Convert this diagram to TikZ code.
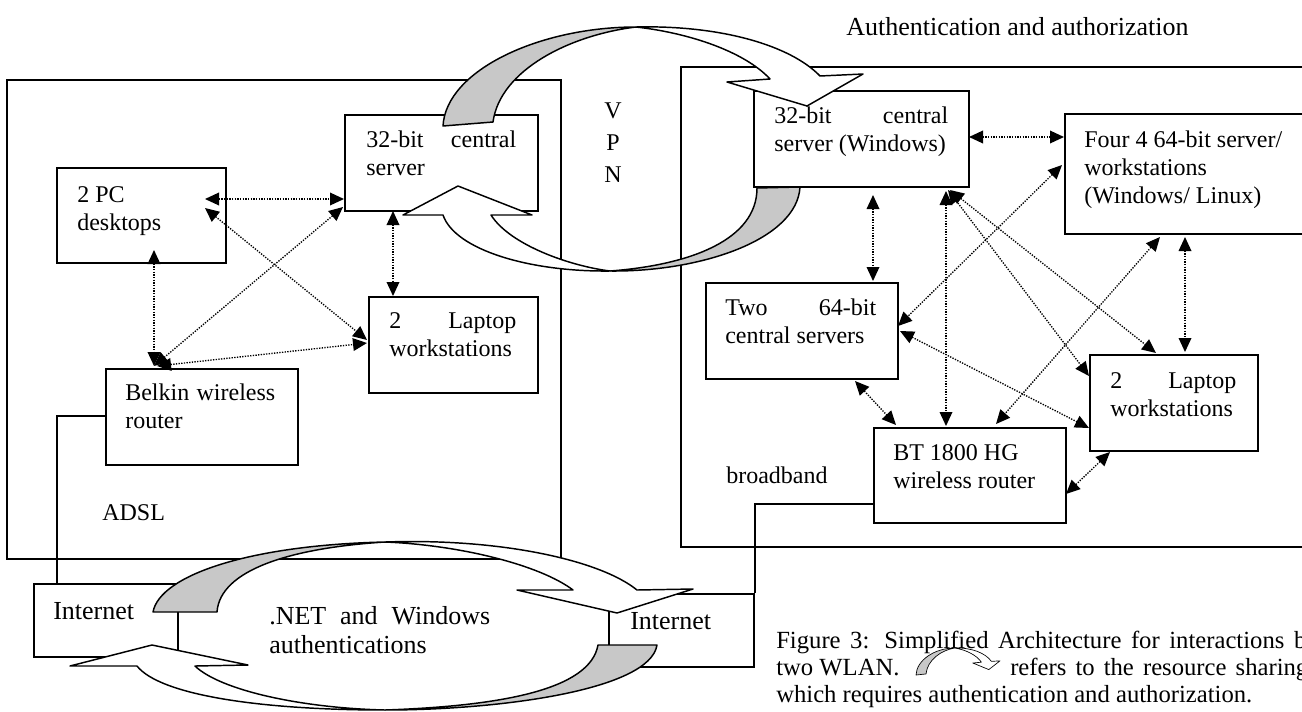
\documentclass[tikz,border=0pt]{standalone}
\usepackage{fontspec}
\setmainfont{Liberation Serif}
\usetikzlibrary{arrows.meta}
\definecolor{bandgray}{RGB}{200,200,200}
\newlength\pxu
\setlength\pxu{0.75pt}
\begin{document}
\begin{tikzpicture}[x=0.75pt, y=-0.75pt,
  frame/.style={draw, line width=1.5pt},
  box/.style 2 args={draw, line width=1.5pt, inner sep=0pt, anchor=north west,
     minimum width=#1*0.75pt, minimum height=#2*0.75pt},
  txt/.style={anchor=base west, inner sep=0pt, font=\fontsize{18}{21}\selectfont},
  big/.style={anchor=base west, inner sep=0pt, font=\fontsize{19.5}{21.75}\selectfont},
  captxt/.style={anchor=base west, inner sep=0pt, font=\fontsize{18.5}{20}\selectfont},
  conn/.style={line width=1pt, dash pattern=on 1pt off 1pt,
     {Triangle[length=10.5pt,width=9.5pt]}-{Triangle[length=10.5pt,width=9.5pt]}},
  wire/.style={line width=1.1pt},
  band/.style={draw, line width=1.1pt, line join=round, fill=white},
  under/.style={draw, line width=1.1pt, line join=round, fill=bandgray}]

\useasboundingbox (0,0) rectangle (1302,711);
\clip (0,0) rectangle (1302,711);

% the two WLAN enclosures
\draw[frame] (7,80) rectangle (561,559);
\draw[frame] (681,67) rectangle (1340,547);

% devices
\node[box={193}{96}] (srvL) at (344,114) {};
\node[box={169}{95}] (pc) at (56,167) {};
\node[box={169}{96}] (lapL) at (368,296) {};
\node[box={192}{96}] (belkin) at (105,368) {};
\node[box={215}{96}] (srvR) at (753,90) {};
\node[box={280}{120}] (four) at (1064,113) {};
\node[box={192}{96}] (two) at (705,282) {};
\node[box={168}{96}] (lapR) at (1089,354) {};
\node[box={192}{95}] (bt) at (873,427) {};
\node[box={144}{73}] (inetL) at (33,583) {};
\node[box={145}{73}] (inetR) at (608,593) {};

% cabling to the Internet
\draw[wire] ([shift={(0,48)}]belkin.north west) -| ([shift={(24,0)}]inetL.north west);
\draw[wire] ([shift={(0,77)}]bt.north west) -| (inetR.north east);

% wireless links, left network
\draw[conn] ([shift={(149,32)}]pc.north west) -- ([shift={(0,85)}]srvL.north west);
\draw[conn] ([shift={(149,41)}]pc.north west) -- ([shift={(-1,44)}]lapL.north west);
\draw[conn] ([shift={(-1,93)}]srvL.north west) -- ([shift={(49,-2)}]belkin.north west);
\draw[conn] ([shift={(98,83)}]pc.north west) -- ([shift={(49,-2)}]belkin.north west);
\draw[conn] ([shift={(52,-2)}]belkin.north west) -- ([shift={(-1,47)}]lapL.north west);
\draw[conn] ([shift={(49,97)}]srvL.north west) -- ([shift={(25,0)}]lapL.north west);

% wireless links, right network
\draw[conn] ([shift={(216,47)}]srvR.north west) -- ([shift={(0,24)}]four.north west);
\draw[conn] ([shift={(120,105)}]srvR.north west) -- ([shift={(168,-1)}]two.north west);
\draw[conn] ([shift={(193,101)}]srvR.north west) -- ([shift={(73,-1)}]bt.north west);
\draw[conn] ([shift={(195,100)}]srvR.north west) -- ([shift={(0,22)}]lapR.north west);
\draw[conn] ([shift={(197,100)}]srvR.north west) -- ([shift={(67,-1)}]lapR.north west);
\draw[conn] ([shift={(-2,52)}]four.north west) -- ([shift={(193,44)}]two.north west);
\draw[conn] ([shift={(96,124)}]four.north west) -- ([shift={(123,-3)}]bt.north west);
\draw[conn] ([shift={(121,124)}]four.north west) -- ([shift={(96,-2)}]lapR.north west);
\draw[conn] ([shift={(150,99)}]two.north west) -- ([shift={(23,-2)}]bt.north west);
\draw[conn] ([shift={(195,49)}]two.north west) -- ([shift={(0,74)}]lapR.north west);
\draw[conn] ([shift={(193,67)}]bt.north west) -- ([shift={(21,98)}]lapR.north west);

% VPN loop: upper arrow
\draw[under] (443,126) .. controls (446,70) and (540,27) .. (636,27)
  .. controls (570,35) and (500,70) .. (493,122) -- cycle;
\draw[band] (636,27) .. controls (720,25) and (790,45) .. (820,76) -- (863,74) -- (807,106)
  -- (727,82) -- (770,79) .. controls (745,52) and (690,33) .. (636,27) -- cycle;
% VPN loop: lower arrow
\draw[under] (800,187) .. controls (797,240) and (700,272) .. (610,271)
  .. controls (690,265) and (757,240) .. (757,188) -- cycle;
\draw[band] (610,271) .. controls (530,272) and (455,250) .. (443,215) -- (403,215) -- (458,186)
  -- (532,215) -- (491,215) .. controls (510,245) and (570,266) .. (610,271) -- cycle;

% authentication loop: upper arrow
\draw[under] (153,612) .. controls (160,575) and (250,545) .. (385,542)
  .. controls (290,548) and (220,570) .. (217,612) -- cycle;
\draw[band] (385,542) .. controls (500,538) and (600,560) .. (637,590) -- (693,589) -- (617,613)
  -- (517,590) -- (573,590) .. controls (540,565) and (460,545) .. (385,542) -- cycle;
% authentication loop: lower arrow
\draw[under] (657,645) .. controls (650,690) and (500,710) .. (385,710)
  .. controls (500,706) and (590,690) .. (598,645) -- cycle;
\draw[band] (385,710) .. controls (260,710) and (160,695) .. (137,666) -- (70,666) -- (152,645)
  -- (248,665) -- (195,666) .. controls (220,690) and (300,708) .. (385,710) -- cycle;

% device labels
\node[txt] (srvLt) at ([shift={(22,33)}]srvL.north west) {\parbox[t]{150\pxu}{32-bit\hfill central\\server}};
\node[txt] (pct) at ([shift={(21,35)}]pc.north west) {\parbox[t]{127\pxu}{2 PC\\desktops}};
\node[txt] (lapLt) at ([shift={(21,32)}]lapL.north west) {\parbox[t]{127\pxu}{2\hfill Laptop\\workstations}};
\node[txt] (belkint) at ([shift={(20,32)}]belkin.north west) {\parbox[t]{150\pxu}{Belkin\hfill wireless\\router}};
\node[txt] (srvRt) at ([shift={(21,33)}]srvR.north west) {\parbox[t]{174\pxu}{32-bit\hfill central\\server (Windows)}};
\node[txt] (fourt) at ([shift={(20,34)}]four.north west) {\parbox[t]{240\pxu}{Four 4 64-bit server/\\workstations\\(Windows/ Linux)}};
\node[txt] (twot) at ([shift={(20,33)}]two.north west) {\parbox[t]{151\pxu}{Two\hfill 64-bit\\central servers}};
\node[txt] (lapRt) at ([shift={(21,34)}]lapR.north west) {\parbox[t]{126\pxu}{2\hfill Laptop\\workstations}};
\node[txt] (btt) at ([shift={(20,33)}]bt.north west) {\parbox[t]{160\pxu}{BT 1800 HG\\wireless router}};

% other labels
\node[txt] (adsl) at (102,520) {ADSL};
\node[txt] (bband) at (726,483) {broadband};
\node[txt, anchor=base] (vpnV) at (613,118) {V};
\node[txt, anchor=base] (vpnP) at (613,150) {P};
\node[txt, anchor=base] (vpnN) at (613,182) {N};
\node[big] (auth) at (846,35) {Authentication and authorization};
\node[big] (inetLt) at (53,619) {Internet};
\node[big] (inetRt) at (630,629) {Internet};
\node[big] (net) at (269,624) {\parbox[t]{221\pxu}{.NET\hfill and\hfill Windows\\authentications}};

% caption with the small sharing symbol
\node[captxt] (cap1) at (776,648) {\makebox[397.5pt][s]{Figure 3: Simplified Architecture for interactions b}};
\node[captxt] (cap2a) at (776,675) {two WLAN.};
\node[captxt] (cap2b) at (1010,675) {\makebox[223.5pt][s]{refers to the resource sharing}};
\node[captxt] (cap3) at (776,702) {which requires authentication and authorization.};
\begin{scope}[shift={(916,648)}, xscale=0.2, yscale=0.273, shift={(-443,-27)}]
  \draw[under, line width=0.5pt] (443,126) .. controls (446,70) and (540,27) .. (636,27)
    .. controls (570,35) and (500,70) .. (493,122) -- cycle;
  \draw[band, line width=0.5pt] (636,27) .. controls (720,25) and (790,45) .. (820,76) -- (863,74) -- (807,106)
    -- (727,82) -- (770,79) .. controls (745,52) and (690,33) .. (636,27) -- cycle;
\end{scope}
\end{tikzpicture}
\end{document}
